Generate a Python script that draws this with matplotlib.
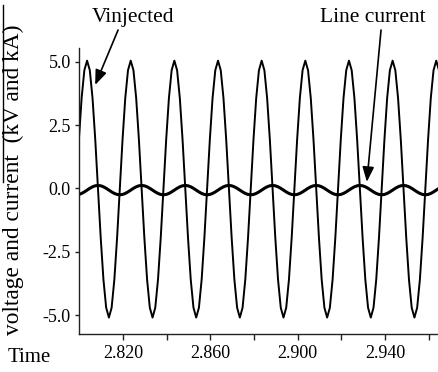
import numpy as np
import matplotlib
matplotlib.use("Agg")
import matplotlib.pyplot as plt
from matplotlib.lines import Line2D

plt.rcParams['font.family'] = ['Liberation Serif', 'DejaVu Serif']
plt.rcParams['axes.unicode_minus'] = False

# steady-state waveforms: one 20 ms cycle,
# sampled every 1.25 ms, starting at t0 (rising zero crossing of Vinjected)
t0 = 2.7985
dt = 0.00125
n_cycles = 9

# injected voltage (kV), one cycle
v_cycle = [0.0, 1.93, 3.57, 4.67, 5.05, 4.67, 3.57, 1.93,
           0.0, -1.95, -3.6, -4.71, -5.1, -4.71, -3.6, -1.95]

# line current (kA), one cycle
i_cycle = [-0.25, -0.236, -0.196, -0.136, -0.065, 0.006, 0.066, 0.106,
           0.12, 0.106, 0.066, 0.006, -0.065, -0.136, -0.196, -0.236]

x_major = [2.820, 2.860, 2.900, 2.940]
x_minor = [2.840, 2.880, 2.920, 2.960]
y_ticks = [5.0, 2.5, 0.0, -2.5, -5.0]

v_injected = np.tile(v_cycle, n_cycles)
i_line = np.tile(i_cycle, n_cycles)
t = t0 + dt * np.arange(len(v_injected))

fig = plt.figure(figsize=(4.38, 3.72), dpi=100)
ax = fig.add_axes([79 / 438, 1 - 334 / 372, 1 - 79 / 438, (334 - 48) / 372])

ax.plot(t, v_injected, color='black', lw=1.4)
ax.plot(t, i_line, color='black', lw=2.2)

ax.set_xlim(2.7998, 2.9643)
ax.set_ylim(-5.75, 5.55)

ax.spines['top'].set_visible(False)
ax.spines['right'].set_visible(False)
for s in ['left', 'bottom']:
    ax.spines[s].set_linewidth(1.0)
    ax.spines[s].set_color('#222222')

ax.set_xticks(x_major)
ax.set_xticklabels(['%.3f' % v for v in x_major])
ax.set_xticks(x_minor, minor=True)
ax.set_yticks(y_ticks)
ax.set_yticklabels(['%.1f' % v for v in y_ticks])
ax.tick_params(axis='x', which='both', direction='out', length=4, width=1,
               color='#222222', labelsize=13, pad=4)
ax.tick_params(axis='y', direction='out', length=3, width=1,
               color='#222222', labelsize=13, pad=3)

fig.text(13 / 438, 1 - 180 / 372, 'voltage and current  (kV and kA)',
         rotation=90, ha='center', va='center', fontsize=16.8)
fig.text(8 / 438, 1 - 357 / 372, 'Time', ha='left', va='center', fontsize=15)

fig.text(133 / 438, 1 - 22 / 372, 'Vinjected', ha='center', va='baseline',
         fontsize=15.5)
fig.text(373 / 438, 1 - 22 / 372, 'Line current', ha='center', va='baseline',
         fontsize=15.5)

arrow = dict(arrowstyle='-|>,head_length=0.9,head_width=0.35', mutation_scale=10,
             color='black', lw=1.2, shrinkA=0, shrinkB=0)
ax.annotate('', xy=(2.8072, 4.09), xytext=(2.8177, 6.26), arrowprops=arrow,
            annotation_clip=False)
ax.annotate('', xy=(2.9317, 0.26), xytext=(2.9382, 6.26), arrowprops=arrow,
            annotation_clip=False)

fig.add_artist(Line2D([2.7 / 438, 2.7 / 438], [1 - 5 / 372, 1 - 182 / 372],
                      transform=fig.transFigure, color='black', lw=1.0))

fig.savefig('out.png', dpi=100)
